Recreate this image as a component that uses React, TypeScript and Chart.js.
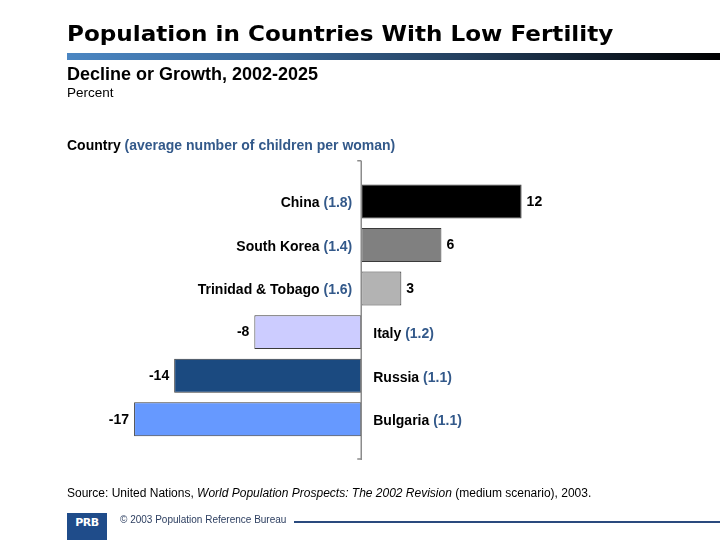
import React, { useEffect, useRef } from "react";
import { Chart, registerables } from "chart.js";

Chart.register(...registerables);

const countries = ["China", "South Korea", "Trinidad & Tobago", "Italy", "Russia", "Bulgaria"];
const fertility = ["(1.8)", "(1.4)", "(1.6)", "(1.2)", "(1.1)", "(1.1)"];
const changes = [12, 6, 3, -8, -14, -17];
const barColors = ["#000000", "#808080", "#b3b3b3", "#ccccff", "#1b4a80", "#6699ff"];

const FONT = "'Liberation Sans', Arial, Helvetica, sans-serif";
const BLUE = "#33598a";

const labelPlugin = {
  id: "labelPlugin",
  afterDatasetsDraw(chart: any) {
    const ctx = chart.ctx as CanvasRenderingContext2D;
    const xs = chart.scales.x;
    const area = chart.chartArea;
    const zx = xs.getPixelForValue(0);
    // axis line
    ctx.save();
    ctx.strokeStyle = "#8c8c8c";
    ctx.lineWidth = 1.5;
    const top = area.top - 19;
    const bot = area.bottom + 19;
    ctx.beginPath();
    ctx.moveTo(zx, top);
    ctx.lineTo(zx, bot);
    ctx.moveTo(zx - 4, top);
    ctx.lineTo(zx, top);
    ctx.moveTo(zx - 4, bot - 1);
    ctx.lineTo(zx, bot - 1);
    ctx.stroke();

    const meta = chart.getDatasetMeta(0);
    meta.data.forEach((bar: any, i: number) => {
      const v = changes[i];
      const y = bar.y;
      ctx.font = `bold 14px ${FONT}`;
      ctx.fillStyle = "#000";
      ctx.textBaseline = "middle";
      // value label
      if (v >= 0) {
        ctx.textAlign = "left";
        ctx.fillText(String(v), bar.x + 5, y + 0.5);
      } else {
        ctx.textAlign = "right";
        ctx.fillText(String(v), bar.x - 5, y + 0.5);
      }
      // category label
      const name = countries[i] + " ";
      const fert = fertility[i];
      const wName = ctx.measureText(name).width;
      const wFert = ctx.measureText(fert).width;
      const ly = y + 2;
      ctx.textAlign = "left";
      let startX: number;
      if (v >= 0) {
        startX = zx - 9 - (wName + wFert);
      } else {
        startX = zx + 12;
      }
      ctx.fillStyle = "#000";
      ctx.fillText(name, startX, ly);
      ctx.fillStyle = BLUE;
      ctx.fillText(fert, startX + wName, ly);
    });
    ctx.restore();
  },
};

function Txt(props: {
  x: number;
  baseline: number;
  size: number;
  bold?: boolean;
  color?: string;
  family?: string;
  scaleX?: number;
  children: React.ReactNode;
}) {
  const { x, baseline, size, bold, color, family, scaleX, children } = props;
  return (
    <div
      style={{
        position: "absolute",
        left: x,
        top: baseline - 0.8305 * size,
        fontFamily: family || FONT,
        fontSize: size,
        lineHeight: `${size}px`,
        fontWeight: bold ? "bold" : "normal",
        color: color || "#000",
        whiteSpace: "nowrap",
        transformOrigin: "0 0",
        transform: scaleX ? `scaleX(${scaleX})` : undefined,
      }}
    >
      {children}
    </div>
  );
}

export default function App() {
  const ref = useRef<HTMLCanvasElement | null>(null);

  useEffect(() => {
    if (!ref.current) return;
    const chart = new Chart(ref.current, {
      type: "bar",
      data: {
        labels: countries,
        datasets: [
          {
            data: changes,
            backgroundColor: barColors,
            borderColor: "#3a3a3a",
            borderWidth: 1,
            borderSkipped: false,
            barPercentage: 0.78,
            categoryPercentage: 1,
          },
        ],
      },
      options: {
        indexAxis: "y",
        responsive: false,
        animation: false,
        layout: { padding: { left: 94, right: 91.5, top: 179.7, bottom: 99 } },
        plugins: { legend: { display: false }, tooltip: { enabled: false } },
        scales: {
          x: { type: "linear", min: -20, max: 20, display: false },
          y: { type: "category", display: false, offset: true },
        },
      },
      plugins: [labelPlugin],
    });
    return () => chart.destroy();
  }, []);

  return (
    <div style={{ position: "absolute", left: 0, top: 0, width: 720, height: 540, background: "#fff", overflow: "hidden" }}>
      <canvas ref={ref} width={720} height={540} style={{ position: "absolute", left: 0, top: 0 }} />
      <Txt x={67} baseline={41} size={22} bold scaleX={1.05} family="'DejaVu Sans', 'Liberation Sans', Arial, sans-serif">
        Population in Countries With Low Fertility
      </Txt>
      <div
        style={{
          position: "absolute",
          left: 67,
          top: 53,
          width: 653,
          height: 7,
          background: "linear-gradient(90deg, #4b86c2 0%, #3a6a9c 30%, #24405f 60%, #000000 100%)",
        }}
      />
      <Txt x={67} baseline={80} size={18} bold>
        Decline or Growth, 2002-2025
      </Txt>
      <Txt x={67} baseline={97} size={13.5}>
        Percent
      </Txt>
      <Txt x={67} baseline={150} size={14} bold>
        Country <span style={{ color: BLUE }}>(average number of children per woman)</span>
      </Txt>
      <Txt x={67} baseline={497} size={12}>
        Source: United Nations, <i>World Population Prospects: The 2002 Revision</i> (medium scenario), 2003.
      </Txt>
      <div
        style={{
          position: "absolute",
          left: 67,
          top: 513,
          width: 40,
          height: 27,
          background: "#1f4c8a",
          color: "#fff",
          fontFamily: "'DejaVu Sans', sans-serif",
          fontWeight: "bold",
          fontSize: 11,
          lineHeight: "20px",
          textAlign: "center",
          letterSpacing: -0.5,
        }}
      >
        PRB
      </div>
      <Txt x={120} baseline={523.5} size={10} color="#2c3e60">
        © 2003 Population Reference Bureau
      </Txt>
      <div style={{ position: "absolute", left: 294, top: 521, width: 426, height: 2, background: "#2a4a7e" }} />
    </div>
  );
}
